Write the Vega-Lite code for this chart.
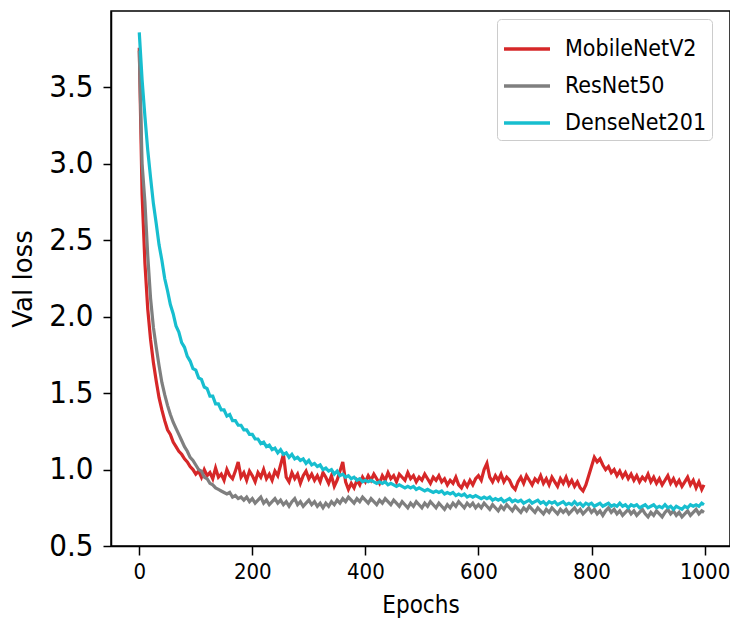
{
  "$schema": "https://vega.github.io/schema/vega-lite/v6.json",
  "autosize": {"type": "none"},
  "padding": {"left": 111, "top": 11, "right": 0, "bottom": 75},
  "width": 619,
  "height": 535,
  "background": "white",
  "config": {
    "view": {"stroke": "#000", "strokeWidth": 1.5},
    "font": "DejaVu Sans"
  },
  "data": {"values": [
{"e":0,"m":3.76,"r":3.74,"d":3.86},
{"e":5,"m":2.80,"r":3.00,"d":3.55},
{"e":10,"m":2.35,"r":2.75,"d":3.31},
{"e":15,"m":2.05,"r":2.40,"d":3.09},
{"e":20,"m":1.85,"r":2.12,"d":2.91},
{"e":25,"m":1.70,"r":1.93,"d":2.74},
{"e":30,"m":1.58,"r":1.80,"d":2.61},
{"e":35,"m":1.47,"r":1.68,"d":2.47},
{"e":40,"m":1.39,"r":1.57,"d":2.37},
{"e":45,"m":1.32,"r":1.49,"d":2.25},
{"e":50,"m":1.26,"r":1.42,"d":2.17},
{"e":55,"m":1.23,"r":1.36,"d":2.08},
{"e":60,"m":1.18,"r":1.31,"d":2.02},
{"e":65,"m":1.15,"r":1.27,"d":1.94},
{"e":70,"m":1.12,"r":1.23,"d":1.90},
{"e":75,"m":1.10,"r":1.19,"d":1.83},
{"e":80,"m":1.07,"r":1.15,"d":1.80},
{"e":85,"m":1.05,"r":1.12,"d":1.74},
{"e":90,"m":1.02,"r":1.08,"d":1.71},
{"e":95,"m":1.00,"r":1.06,"d":1.66},
{"e":100,"m":0.97,"r":1.03,"d":1.65},
{"e":105,"m":0.99,"r":1.00,"d":1.60},
{"e":110,"m":0.95,"r":0.99,"d":1.59},
{"e":115,"m":1.00,"r":0.95,"d":1.54},
{"e":120,"m":0.96,"r":0.94,"d":1.53},
{"e":125,"m":0.98,"r":0.91,"d":1.48},
{"e":130,"m":0.94,"r":0.90,"d":1.48},
{"e":135,"m":1.01,"r":0.88,"d":1.43},
{"e":140,"m":0.95,"r":0.87,"d":1.43},
{"e":145,"m":0.97,"r":0.86,"d":1.39},
{"e":150,"m":0.93,"r":0.85,"d":1.39},
{"e":155,"m":1.00,"r":0.84,"d":1.35},
{"e":160,"m":0.96,"r":0.85,"d":1.36},
{"e":165,"m":0.94,"r":0.82,"d":1.32},
{"e":170,"m":0.99,"r":0.83,"d":1.32},
{"e":175,"m":1.05,"r":0.81,"d":1.29},
{"e":180,"m":0.95,"r":0.82,"d":1.29},
{"e":185,"m":0.98,"r":0.80,"d":1.26},
{"e":190,"m":0.93,"r":0.82,"d":1.26},
{"e":195,"m":0.99,"r":0.79,"d":1.23},
{"e":200,"m":0.96,"r":0.81,"d":1.23},
{"e":205,"m":0.92,"r":0.78,"d":1.20},
{"e":210,"m":0.98,"r":0.80,"d":1.20},
{"e":215,"m":0.95,"r":0.82,"d":1.17},
{"e":220,"m":1.00,"r":0.78,"d":1.18},
{"e":225,"m":0.94,"r":0.80,"d":1.15},
{"e":230,"m":0.97,"r":0.77,"d":1.16},
{"e":235,"m":0.93,"r":0.79,"d":1.13},
{"e":240,"m":0.99,"r":0.81,"d":1.14},
{"e":245,"m":0.96,"r":0.78,"d":1.11},
{"e":250,"m":1.03,"r":0.80,"d":1.13},
{"e":255,"m":1.10,"r":0.77,"d":1.10},
{"e":260,"m":0.95,"r":0.79,"d":1.11},
{"e":265,"m":0.92,"r":0.76,"d":1.08},
{"e":270,"m":0.98,"r":0.79,"d":1.10},
{"e":275,"m":0.94,"r":0.81,"d":1.07},
{"e":280,"m":0.97,"r":0.77,"d":1.08},
{"e":285,"m":0.91,"r":0.79,"d":1.06},
{"e":290,"m":0.96,"r":0.76,"d":1.07},
{"e":295,"m":0.99,"r":0.78,"d":1.04},
{"e":300,"m":0.94,"r":0.80,"d":1.06},
{"e":305,"m":0.97,"r":0.77,"d":1.03},
{"e":310,"m":0.93,"r":0.79,"d":1.04},
{"e":315,"m":0.96,"r":0.76,"d":1.02},
{"e":320,"m":0.92,"r":0.78,"d":1.03},
{"e":325,"m":0.98,"r":0.75,"d":1.00},
{"e":330,"m":0.95,"r":0.78,"d":1.01},
{"e":335,"m":0.91,"r":0.76,"d":0.99},
{"e":340,"m":0.96,"r":0.79,"d":1.00},
{"e":345,"m":0.89,"r":0.77,"d":0.97},
{"e":350,"m":0.93,"r":0.80,"d":0.99},
{"e":355,"m":0.99,"r":0.78,"d":0.96},
{"e":360,"m":1.05,"r":0.81,"d":0.97},
{"e":365,"m":0.92,"r":0.79,"d":0.95},
{"e":370,"m":0.87,"r":0.82,"d":0.96},
{"e":375,"m":0.91,"r":0.80,"d":0.94},
{"e":380,"m":0.88,"r":0.78,"d":0.95},
{"e":385,"m":0.93,"r":0.81,"d":0.93},
{"e":390,"m":0.90,"r":0.79,"d":0.94},
{"e":395,"m":0.95,"r":0.82,"d":0.92},
{"e":400,"m":0.92,"r":0.80,"d":0.93},
{"e":405,"m":0.96,"r":0.78,"d":0.92},
{"e":410,"m":0.93,"r":0.81,"d":0.93},
{"e":415,"m":0.97,"r":0.79,"d":0.92},
{"e":420,"m":0.94,"r":0.77,"d":0.91},
{"e":425,"m":0.91,"r":0.80,"d":0.92},
{"e":430,"m":0.96,"r":0.78,"d":0.91},
{"e":435,"m":0.93,"r":0.81,"d":0.92},
{"e":440,"m":0.98,"r":0.79,"d":0.90},
{"e":445,"m":0.94,"r":0.77,"d":0.91},
{"e":450,"m":0.96,"r":0.80,"d":0.90},
{"e":455,"m":0.92,"r":0.78,"d":0.89},
{"e":460,"m":0.97,"r":0.76,"d":0.90},
{"e":465,"m":0.95,"r":0.79,"d":0.89},
{"e":470,"m":0.93,"r":0.77,"d":0.88},
{"e":475,"m":0.98,"r":0.75,"d":0.89},
{"e":480,"m":0.94,"r":0.78,"d":0.88},
{"e":485,"m":0.96,"r":0.76,"d":0.89},
{"e":490,"m":0.92,"r":0.79,"d":0.87},
{"e":495,"m":0.95,"r":0.77,"d":0.88},
{"e":500,"m":0.93,"r":0.75,"d":0.87},
{"e":505,"m":0.97,"r":0.78,"d":0.86},
{"e":510,"m":0.94,"r":0.76,"d":0.87},
{"e":515,"m":0.91,"r":0.79,"d":0.86},
{"e":520,"m":0.95,"r":0.77,"d":0.85},
{"e":525,"m":0.93,"r":0.75,"d":0.86},
{"e":530,"m":0.96,"r":0.78,"d":0.85},
{"e":535,"m":0.92,"r":0.76,"d":0.86},
{"e":540,"m":0.94,"r":0.74,"d":0.84},
{"e":545,"m":0.90,"r":0.77,"d":0.85},
{"e":550,"m":0.93,"r":0.75,"d":0.84},
{"e":555,"m":0.91,"r":0.78,"d":0.85},
{"e":560,"m":0.95,"r":0.76,"d":0.83},
{"e":565,"m":0.90,"r":0.79,"d":0.84},
{"e":570,"m":0.88,"r":0.77,"d":0.83},
{"e":575,"m":0.92,"r":0.75,"d":0.84},
{"e":580,"m":0.89,"r":0.78,"d":0.82},
{"e":585,"m":0.93,"r":0.76,"d":0.83},
{"e":590,"m":0.90,"r":0.78,"d":0.82},
{"e":595,"m":0.94,"r":0.75,"d":0.83},
{"e":600,"m":0.96,"r":0.77,"d":0.82},
{"e":605,"m":0.93,"r":0.75,"d":0.81},
{"e":610,"m":1.00,"r":0.78,"d":0.82},
{"e":615,"m":1.04,"r":0.76,"d":0.81},
{"e":620,"m":0.95,"r":0.74,"d":0.82},
{"e":625,"m":0.92,"r":0.77,"d":0.80},
{"e":630,"m":0.96,"r":0.75,"d":0.81},
{"e":635,"m":0.93,"r":0.73,"d":0.80},
{"e":640,"m":0.97,"r":0.76,"d":0.81},
{"e":645,"m":0.92,"r":0.74,"d":0.79},
{"e":650,"m":0.95,"r":0.77,"d":0.80},
{"e":655,"m":0.93,"r":0.75,"d":0.81},
{"e":660,"m":0.89,"r":0.73,"d":0.79},
{"e":665,"m":0.87,"r":0.76,"d":0.80},
{"e":670,"m":0.92,"r":0.74,"d":0.79},
{"e":675,"m":0.95,"r":0.72,"d":0.80},
{"e":680,"m":0.91,"r":0.75,"d":0.78},
{"e":685,"m":0.96,"r":0.73,"d":0.79},
{"e":690,"m":0.93,"r":0.76,"d":0.80},
{"e":695,"m":0.90,"r":0.74,"d":0.78},
{"e":700,"m":0.94,"r":0.72,"d":0.79},
{"e":705,"m":0.92,"r":0.75,"d":0.80},
{"e":710,"m":0.96,"r":0.73,"d":0.78},
{"e":715,"m":0.91,"r":0.71,"d":0.79},
{"e":720,"m":0.94,"r":0.74,"d":0.77},
{"e":725,"m":0.90,"r":0.72,"d":0.79},
{"e":730,"m":0.95,"r":0.75,"d":0.78},
{"e":735,"m":0.92,"r":0.73,"d":0.79},
{"e":740,"m":0.89,"r":0.71,"d":0.77},
{"e":745,"m":0.94,"r":0.74,"d":0.78},
{"e":750,"m":0.91,"r":0.72,"d":0.79},
{"e":755,"m":0.95,"r":0.74,"d":0.77},
{"e":760,"m":0.90,"r":0.71,"d":0.78},
{"e":765,"m":0.93,"r":0.73,"d":0.77},
{"e":770,"m":0.89,"r":0.75,"d":0.79},
{"e":775,"m":0.92,"r":0.72,"d":0.77},
{"e":780,"m":0.88,"r":0.74,"d":0.78},
{"e":785,"m":0.86,"r":0.71,"d":0.76},
{"e":790,"m":0.90,"r":0.73,"d":0.78},
{"e":795,"m":0.96,"r":0.75,"d":0.77},
{"e":800,"m":1.02,"r":0.72,"d":0.78},
{"e":805,"m":1.08,"r":0.74,"d":0.76},
{"e":810,"m":1.05,"r":0.71,"d":0.77},
{"e":815,"m":1.07,"r":0.73,"d":0.78},
{"e":820,"m":1.03,"r":0.70,"d":0.76},
{"e":825,"m":1.00,"r":0.73,"d":0.77},
{"e":830,"m":1.02,"r":0.75,"d":0.78},
{"e":835,"m":0.98,"r":0.72,"d":0.76},
{"e":840,"m":1.00,"r":0.74,"d":0.77},
{"e":845,"m":0.96,"r":0.71,"d":0.76},
{"e":850,"m":0.99,"r":0.73,"d":0.78},
{"e":855,"m":0.95,"r":0.70,"d":0.76},
{"e":860,"m":0.98,"r":0.72,"d":0.77},
{"e":865,"m":0.94,"r":0.74,"d":0.75},
{"e":870,"m":0.97,"r":0.71,"d":0.77},
{"e":875,"m":0.93,"r":0.73,"d":0.76},
{"e":880,"m":0.96,"r":0.70,"d":0.77},
{"e":885,"m":0.92,"r":0.72,"d":0.75},
{"e":890,"m":0.95,"r":0.74,"d":0.76},
{"e":895,"m":0.93,"r":0.71,"d":0.77},
{"e":900,"m":0.97,"r":0.69,"d":0.75},
{"e":905,"m":0.92,"r":0.72,"d":0.76},
{"e":910,"m":0.95,"r":0.70,"d":0.77},
{"e":915,"m":0.91,"r":0.73,"d":0.75},
{"e":920,"m":0.94,"r":0.71,"d":0.76},
{"e":925,"m":0.90,"r":0.69,"d":0.75},
{"e":930,"m":0.93,"r":0.72,"d":0.77},
{"e":935,"m":0.96,"r":0.74,"d":0.75},
{"e":940,"m":0.91,"r":0.71,"d":0.76},
{"e":945,"m":0.94,"r":0.73,"d":0.74},
{"e":950,"m":0.90,"r":0.70,"d":0.76},
{"e":955,"m":0.93,"r":0.72,"d":0.75},
{"e":960,"m":0.89,"r":0.69,"d":0.74},
{"e":965,"m":0.92,"r":0.71,"d":0.76},
{"e":970,"m":0.95,"r":0.73,"d":0.75},
{"e":975,"m":0.90,"r":0.70,"d":0.77},
{"e":980,"m":0.93,"r":0.72,"d":0.76},
{"e":985,"m":0.88,"r":0.74,"d":0.77},
{"e":990,"m":0.92,"r":0.71,"d":0.76},
{"e":995,"m":0.87,"r":0.73,"d":0.78},
{"e":999,"m":0.90,"r":0.72,"d":0.77}
  ]},
  "transform": [{"fold": ["m", "r", "d"], "as": ["k", "v"]}],
  "mark": {"type": "line", "strokeWidth": 3.2, "clip": true},
  "encoding": {
    "x": {
      "field": "e", "type": "quantitative",
      "scale": {"domain": [-50, 1045], "nice": false, "zero": false},
      "axis": {
        "title": "Epochs", "values": [0, 200, 400, 600, 800, 1000],
        "format": "d",
        "grid": false, "domainColor": "#000", "domainWidth": 1.5,
        "tickColor": "#000", "tickWidth": 1.5, "tickSize": 9,
        "labelFont": "DejaVu Sans Condensed, DejaVu Sans", "labelFontSize": 22, "labelColor": "#000",
        "labelPadding": 6,
        "titleFont": "DejaVu Sans Condensed, DejaVu Sans", "titleFontSize": 24, "titleFontWeight": "normal",
        "titleColor": "#000", "titlePadding": 11
      }
    },
    "y": {
      "field": "v", "type": "quantitative",
      "scale": {"domain": [0.5, 4.0], "nice": false, "zero": false},
      "axis": {
        "title": "Val loss", "values": [0.5, 1.0, 1.5, 2.0, 2.5, 3.0, 3.5],
        "format": ".1f",
        "grid": false, "domainColor": "#000", "domainWidth": 1.5,
        "tickColor": "#000", "tickWidth": 1.5, "tickSize": 8,
        "labelFont": "DejaVu Sans Condensed, DejaVu Sans", "labelFontSize": 31, "labelColor": "#000",
        "labelPadding": 10,
        "titleFont": "DejaVu Sans", "titleFontSize": 26, "titleFontWeight": "normal",
        "titleColor": "#000", "titlePadding": 12
      }
    },
    "color": {
      "field": "k", "type": "nominal",
      "scale": {"domain": ["m", "r", "d"], "range": ["#d62728", "#7f7f7f", "#17becf"]},
      "legend": {
        "title": null, "orient": "none", "legendX": 386, "legendY": 8,
        "labelExpr": "datum.value == 'm' ? 'MobileNetV2' : datum.value == 'r' ? 'ResNet50' : 'DenseNet201'",
        "symbolType": "stroke", "symbolSize": 2116, "symbolStrokeWidth": 3.5,
        "labelFont": "DejaVu Sans Condensed, DejaVu Sans", "labelFontSize": 23, "labelColor": "#000",
        "labelOffset": 13, "rowPadding": 0, "padding": 5,
        "strokeColor": "#cccccc", "fillColor": "white", "cornerRadius": 4
      }
    }
  }
}
